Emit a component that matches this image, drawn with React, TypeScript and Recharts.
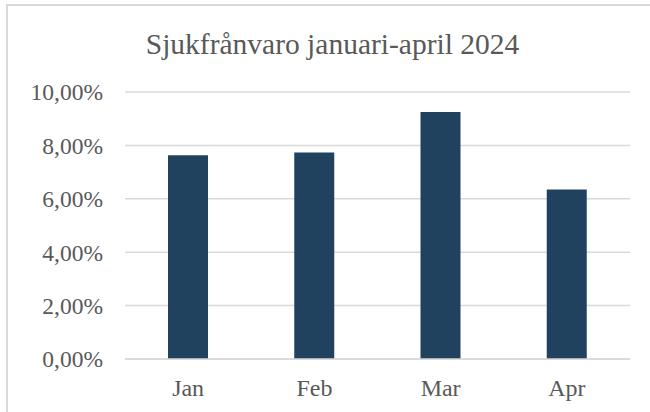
import { BarChart, Bar, XAxis, YAxis, CartesianGrid } from "recharts";

const months = ["Jan", "Feb", "Mar", "Apr"];
const absence = [7.63, 7.73, 9.25, 6.35];
const yTicks = [0, 2, 4, 6, 8, 10];

const data = months.map((month, i) => ({ month, value: absence[i] }));

const font = '"Liberation Serif", "Times New Roman", serif';
const textColor = "#595959";
const gridColor = "#d9d9d9";

const formatPercent = (v: number) => `${v.toFixed(2).replace(".", ",")}%`;

export default function App() {
  return (
    <div style={{ position: "absolute", left: 0, top: 0, width: 650, height: 412, background: "#fff" }}>
      <div
        style={{
          position: "absolute",
          left: 6,
          top: 4,
          width: 700,
          height: 500,
          borderLeft: `2px solid ${gridColor}`,
          borderTop: `2px solid ${gridColor}`,
        }}
      />
      <div
        style={{
          position: "absolute",
          left: 0,
          width: 665,
          top: 27,
          textAlign: "center",
          fontFamily: font,
          fontSize: 29.5,
          color: textColor,
          lineHeight: "34px",
        }}
      >
        Sjukfrånvaro januari-april 2024
      </div>
      <BarChart
        width={650}
        height={412}
        data={data}
        margin={{ top: 92, right: 20, bottom: 23, left: 0 }}
        style={{ position: "absolute", left: 0, top: 0 }}
      >
        <CartesianGrid vertical={false} stroke={gridColor} strokeWidth={1.5} />
        <XAxis
          dataKey="month"
          axisLine={{ stroke: gridColor, strokeWidth: 1.5 }}
          tickLine={false}
          tickMargin={14}
          tick={{ fontFamily: font, fontSize: 24, fill: textColor }}
        />
        <YAxis
          domain={[0, 10]}
          ticks={yTicks}
          width={125}
          axisLine={false}
          tickLine={false}
          tickMargin={16}
          tickFormatter={formatPercent}
          tick={{ fontFamily: font, fontSize: 23.5, fill: textColor }}
        />
        <Bar dataKey="value" fill="#21425E" barSize={40} isAnimationActive={false} />
      </BarChart>
    </div>
  );
}
